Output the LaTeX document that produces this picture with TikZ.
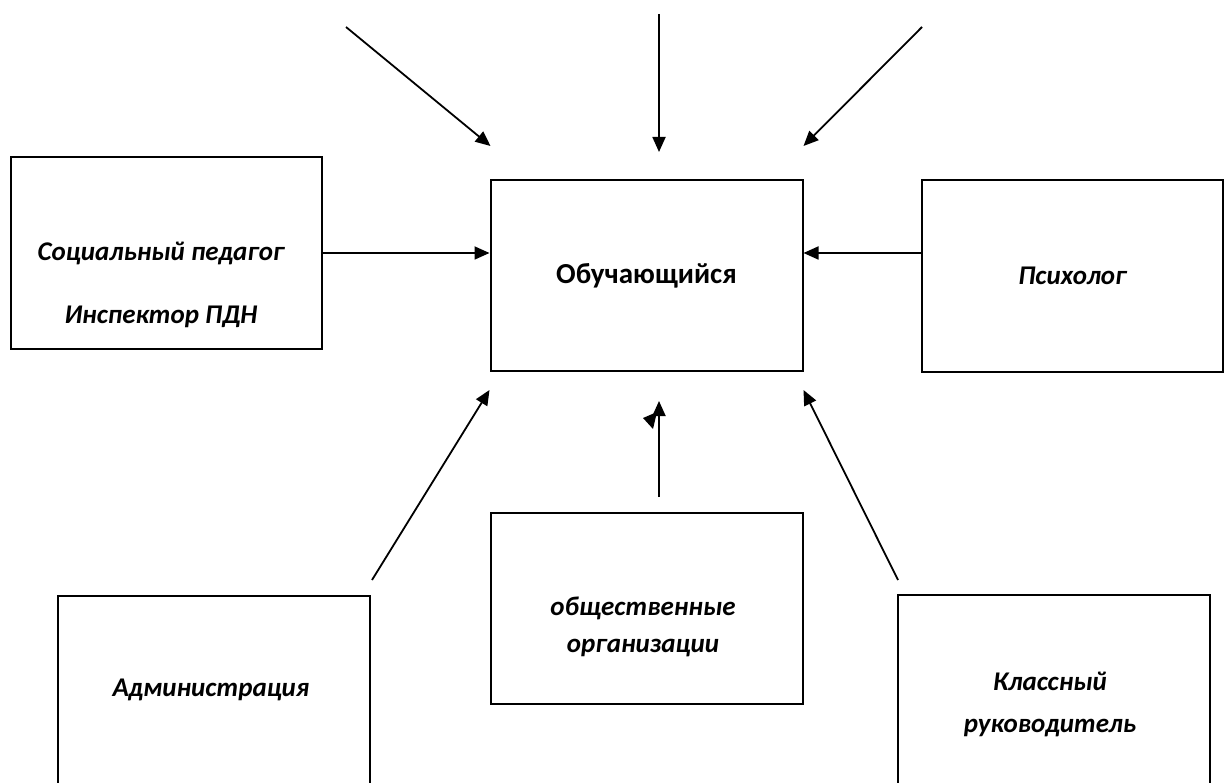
\documentclass[tikz,border=0pt]{standalone}
\usepackage{fontspec}
\setmainfont{Carlito}
\usetikzlibrary{arrows.meta, calc}
\tikzstyle{box}=[draw, line width=2pt, minimum width=312pt, minimum height=191pt, inner sep=0pt]
\tikzstyle{lbl}=[font=\bfseries\itshape\fontsize{27}{42}\selectfont, align=center, inner sep=0pt]
\tikzstyle{arr}=[line width=1.8pt, -{Triangle[length=15pt, width=13pt]}]

\begin{document}
\begin{tikzpicture}[x=1pt, y=-1pt]
    \useasboundingbox (0,0) rectangle (1225,783);
    % boxes
    \node [box, font=\bfseries\fontsize{29}{35}\selectfont] (p) at (646.5,275.5) {Обучающийся};
    \node [box, minimum width=311pt, minimum height=192pt] (s) at (166,253) {};
    \node [box, minimum width=301pt, lbl] (q) at (1072.5,276) {Психолог};
    \node [box] (o) at (646.5,608.5) {};
    \node [box, minimum height=194pt] (a) at (214,693) {};
    \node [box, minimum height=195pt] (c) at (1054,692.5) {};
    % texts
    \node [lbl, font=\bfseries\itshape\fontsize{27}{63}\selectfont] (sT) at (161,284.5) {Социальный педагог\\Инспектор ПДН};
    \node [lbl, font=\bfseries\itshape\fontsize{27}{37}\selectfont] (oT) at (643,626.5) {общественные\\организации};
    \node [lbl] (aT) at (211,690) {Администрация};
    \node [lbl] (cT) at (1050,704) {Классный\\руководитель};
    % arrows from above
    \coordinate (t1) at (346,27);
    \coordinate (t2) at (659,14);
    \coordinate (t3) at (922,27);
    \draw [arr] (t1) -- ($(p.north west)+(1,-33)$);
    \draw [arr] (t2) -- ($(p.north)+(12.5,-27)$);
    \draw [arr] (t3) -- ($(p.north east)+(0,-33)$);
    % arrows from the sides
    \coordinate (r) at ($(q.west)+(0,-23)$);
    \draw [arr] (s.east) -- (s.east -| p.west);
    \draw [arr] (r) -- (r -| p.east);
    % arrows from below
    \draw [arr] ($(a.north east)+(1,-15)$) -- ($(p.south west)+(0,18)$);
    \draw [arr] ($(o.north)+(12.5,-15)$) -- ($(p.south)+(12.5,29)$);
    \fill (643,418) -- (657,412) -- (653,429) -- cycle;
    \draw [arr] ($(c.north west)+(1,-14)$) -- ($(p.south east)+(0,18)$);
\end{tikzpicture}
\end{document}
